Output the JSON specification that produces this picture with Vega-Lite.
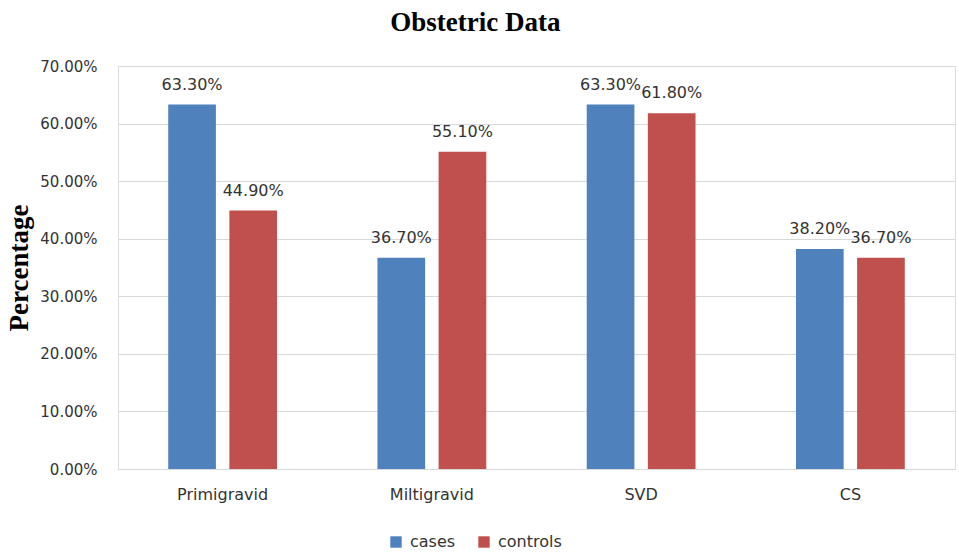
{
  "$schema": "https://vega.github.io/schema/vega-lite/v6.json",
  "autosize": "none",
  "width": 837,
  "height": 403,
  "padding": {"left": 118, "top": 66, "right": 4, "bottom": 85},
  "background": "white",
  "title": {
    "text": "Obstetric Data",
    "font": "Liberation Serif",
    "fontSize": 27,
    "fontWeight": "bold",
    "color": "#000000",
    "anchor": "middle",
    "frame": "bounds",
    "offset": 22,
    "dx": -5
  },
  "data": {
    "values": [
      {"category": "Primigravid", "group": "cases", "value": 0.633},
      {"category": "Primigravid", "group": "controls", "value": 0.449},
      {"category": "Miltigravid", "group": "cases", "value": 0.367},
      {"category": "Miltigravid", "group": "controls", "value": 0.551},
      {"category": "SVD", "group": "cases", "value": 0.633},
      {"category": "SVD", "group": "controls", "value": 0.618},
      {"category": "CS", "group": "cases", "value": 0.382},
      {"category": "CS", "group": "controls", "value": 0.367}
    ]
  },
  "encoding": {
    "x": {
      "field": "category",
      "type": "nominal",
      "sort": ["Primigravid", "Miltigravid", "SVD", "CS"],
      "scale": {"paddingInner": 0.48, "paddingOuter": 0.24},
      "axis": {
        "title": null,
        "labelAngle": 0,
        "labelFont": "DejaVu Sans",
        "labelFontSize": 16,
        "labelColor": "#333333",
        "labelPadding": 17,
        "ticks": false,
        "domainColor": "#D9D9D9",
        "grid": false
      }
    },
    "xOffset": {
      "field": "group",
      "type": "nominal",
      "sort": ["cases", "controls"],
      "scale": {"paddingInner": 0.22}
    },
    "y": {
      "field": "value",
      "type": "quantitative",
      "scale": {"domain": [0, 0.7], "nice": false},
      "axis": {
        "title": "Percentage",
        "titleFont": "Liberation Serif",
        "titleFontSize": 27,
        "titleFontWeight": "bold",
        "titleColor": "#000000",
        "titlePadding": 6,
        "format": ".2%",
        "values": [0, 0.1, 0.2, 0.3, 0.4, 0.5, 0.6, 0.7],
        "labelFont": "DejaVu Sans",
        "labelFontSize": 15,
        "labelColor": "#333333",
        "labelPadding": 21,
        "ticks": false,
        "domain": false,
        "gridColor": "#D9D9D9"
      }
    }
  },
  "layer": [
    {
      "mark": {"type": "bar"},
      "encoding": {
        "color": {
          "field": "group",
          "type": "nominal",
          "scale": {"domain": ["cases", "controls"], "range": ["#4F81BD", "#C0504D"]},
          "legend": {
            "title": null,
            "orient": "none",
            "direction": "horizontal",
            "legendX": 270,
            "legendY": 468,
            "symbolType": "square",
            "symbolSize": 130,
            "symbolStrokeWidth": 0,
            "labelFont": "DejaVu Sans",
            "labelFontSize": 16,
            "labelColor": "#333333",
            "columnPadding": 20,
            "labelOffset": 6
          }
        }
      }
    },
    {
      "mark": {
        "type": "text",
        "baseline": "alphabetic",
        "dy": -15,
        "font": "DejaVu Sans",
        "fontSize": 16,
        "color": "#333333"
      },
      "encoding": {
        "text": {"field": "value", "type": "quantitative", "format": ".2%"}
      }
    }
  ]
}
